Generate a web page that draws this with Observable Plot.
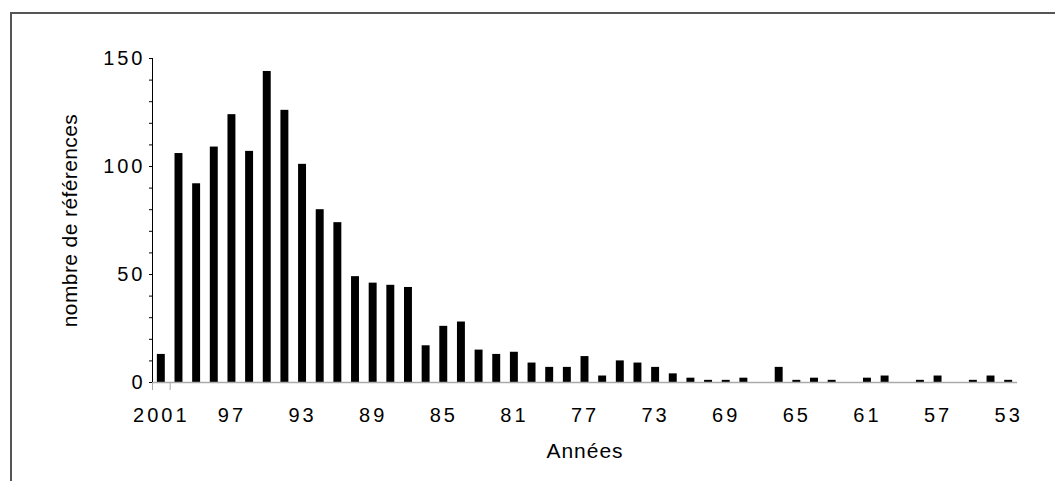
<!DOCTYPE html>
<html><head><meta charset="utf-8">
<script src="https://cdn.jsdelivr.net/npm/d3@7"></script>
<script src="https://cdn.jsdelivr.net/npm/@observablehq/plot@0.6"></script>
<style>
body{margin:0;background:#fff;}
#wrap{position:relative;width:1055px;height:481px;overflow:hidden;background:#fff;}
#border{position:absolute;left:10px;top:12px;width:1100px;height:600px;border-top:2px solid #555;border-left:2px solid #555;pointer-events:none;}
g[aria-label="x-axis tick label"] text, g[aria-label="y-axis tick label"] text {letter-spacing:3px;}
g[aria-label="x-axis label"] text {letter-spacing:1px;font-size:21px;}
g[aria-label="y-axis label"] text {letter-spacing:0.4px;font-size:21px;}
</style></head><body><div id="wrap"><div id="border"></div></div>
<script>
const years = [2001,2000,1999,1998,1997,1996,1995,1994,1993,1992,1991,1990,1989,1988,1987,1986,1985,1984,1983,1982,1981,1980,1979,1978,1977,1976,1975,1974,1973,1972,1971,1970,1969,1968,1967,1966,1965,1964,1963,1962,1961,1960,1959,1958,1957,1956,1955,1954,1953];
const counts = [13,106,92,109,124,107,144,126,101,80,74,49,46,45,44,17,26,28,15,13,14,9,7,7,12,3,10,9,7,4,2,1,1,2,0,7,1,2,1,0,2,3,0,1,3,0,1,3,1];
const tickYears = years.filter((d, i) => i % 4 === 0);
const yMajor = [0, 50, 100, 150];
const yMinor = [0,10,20,30,40,50,60,70,80,90,100,110,120,130,140,150];
const data = years.map((y, i) => ({year: y, count: counts[i]}));
const W = 1055, H = 481, mL = 152, mR = 38;
const step = (W - mL - mR) / years.length;
const chart = Plot.plot({
  width: W, height: H,
  marginLeft: mL, marginRight: mR, marginTop: 58, marginBottom: 99,
  style: {fontFamily: "'Liberation Sans', Arial, sans-serif", fontSize: "20px", color: "#000", background: "transparent"},
  x: {domain: years, paddingInner: 0.55, paddingOuter: 0.275},
  y: {domain: [0, 150]},
  marks: [
    Plot.barY(data, {x: "year", y: "count", fill: "#000"}),
    Plot.ruleY([0], {stroke: "#aaa", strokeWidth: 1.5}),
    Plot.axisY(yMinor, {tickSize: 3, text: null, label: null}),
    Plot.axisY(yMajor, {tickSize: 3, tickPadding: 4, label: "nombre de références", labelArrow: "none", labelAnchor: "center", labelOffset: 90}),
    Plot.frame({anchor: "left", stroke: "#000"}),
    Plot.axisX(tickYears, {tickSize: 0, tickPadding: 25, tickFormat: d => d === 2001 ? "2001" : String(d).slice(2), label: "Années", labelArrow: "none", labelAnchor: "center", labelOffset: 75}),
    Plot.axisX([2001], {tickSize: 8, text: null, label: null, dx: -step / 2, stroke: "#aaa"}),
    Plot.axisX([2001], {tickSize: 8, text: null, label: null, dx: step / 2, stroke: "#aaa"})
  ]
});
chart.style.position = "absolute";
chart.style.left = "0px";
chart.style.top = "0px";
document.getElementById("wrap").prepend(chart);
</script>
</body></html>
